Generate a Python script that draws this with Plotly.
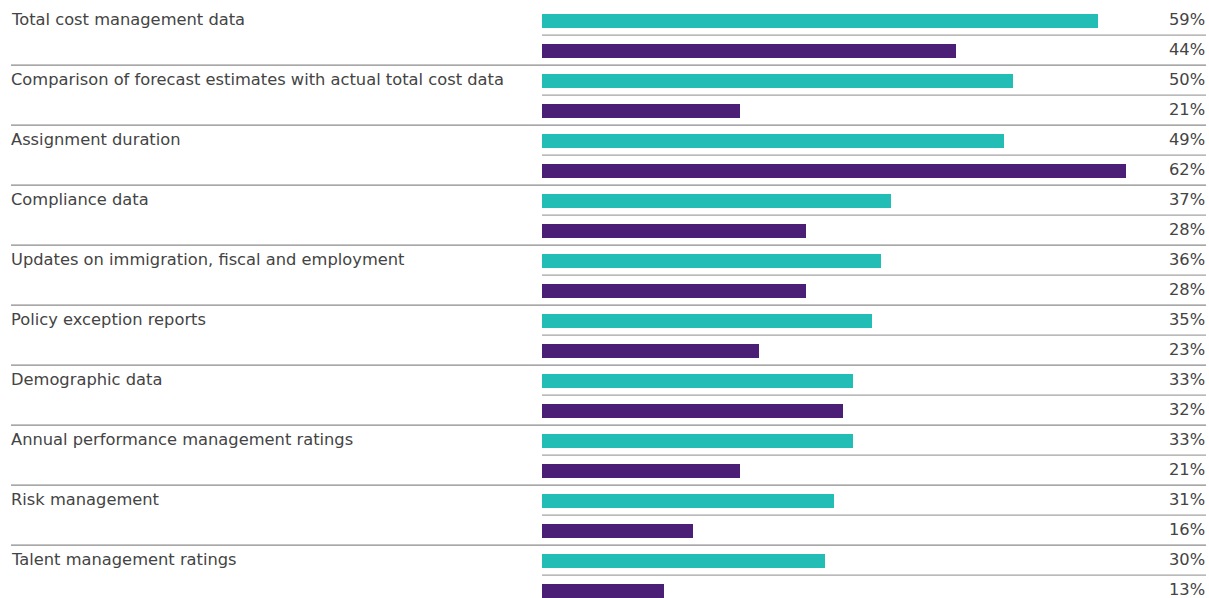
import plotly.graph_objects as go

categories = [
    "Total cost management data",
    "Comparison of forecast estimates with actual total cost data",
    "Assignment duration",
    "Compliance data",
    "Updates on immigration, fiscal and employment",
    "Policy exception reports",
    "Demographic data",
    "Annual performance management ratings",
    "Risk management",
    "Talent management ratings",
]
teal_values = [59, 50, 49, 37, 36, 35, 33, 33, 31, 30]
purple_values = [44, 21, 62, 28, 28, 23, 32, 21, 16, 13]

TEAL = "#22bdb4"
PURPLE = "#4b1f75"
TEXT = "#444444"
FONT = "DejaVu Sans, Verdana, sans-serif"
FS = 16.3

W, H = 1209, 598
ML = 542
ROW = 30.0
FIRST = 21.0
XMAX = 70.81

n = len(categories)
teal_rows = [2 * i for i in range(n)]
purple_rows = [2 * i + 1 for i in range(n)]
y_top = -FIRST / ROW
y_bot = (H - FIRST) / ROW

fig = go.Figure()
fig.add_trace(go.Bar(x=teal_values, y=teal_rows, orientation="h",
                     marker=dict(color=TEAL, line=dict(width=0)), width=14 / ROW,
                     hoverinfo="skip", showlegend=False))
fig.add_trace(go.Bar(x=purple_values, y=purple_rows, orientation="h",
                     marker=dict(color=PURPLE, line=dict(width=0)), width=14 / ROW,
                     hoverinfo="skip", showlegend=False))

def ypaper(row):
    return 1 - (row - y_top) / (y_bot - y_top)

pw = W - ML
shapes = []
annotations = []
for i, cat in enumerate(categories):
    tr, pr = teal_rows[i], purple_rows[i]
    shapes.append(dict(type="line", xref="paper", yref="paper",
                       x0=0, x1=(1206 - ML) / pw,
                       y0=ypaper(tr + 0.47), y1=ypaper(tr + 0.47),
                       line=dict(color="#8c8c8c", width=1)))
    if i < n - 1:
        shapes.append(dict(type="line", xref="paper", yref="paper",
                           x0=(11 - ML) / pw, x1=(1206 - ML) / pw,
                           y0=ypaper(pr + 0.47), y1=ypaper(pr + 0.47),
                           line=dict(color="#6e6e6e", width=1)))
    annotations.append(dict(text=cat, xref="paper", yref="y", x=(9 - ML) / pw, y=tr - 0.06,
                            xanchor="left", yanchor="middle", showarrow=False,
                            font=dict(family=FONT, size=FS, color=TEXT)))
    annotations.append(dict(text=f"{teal_values[i]}%", xref="paper", yref="y", x=(1207 - ML) / pw,
                            y=tr - 0.06, xanchor="right", yanchor="middle", showarrow=False,
                            font=dict(family=FONT, size=FS, color=TEXT)))
    annotations.append(dict(text=f"{purple_values[i]}%", xref="paper", yref="y", x=(1207 - ML) / pw,
                            y=pr - 0.06, xanchor="right", yanchor="middle", showarrow=False,
                            font=dict(family=FONT, size=FS, color=TEXT)))

fig.update_layout(
    width=W, height=H,
    margin=dict(l=ML, r=0, t=0, b=0),
    paper_bgcolor="white", plot_bgcolor="white",
    xaxis=dict(range=[0, XMAX], visible=False, fixedrange=True),
    yaxis=dict(range=[y_bot, y_top], visible=False, fixedrange=True),
    shapes=shapes, annotations=annotations,
    bargap=0, barmode="overlay",
)
fig.write_html("out.html")
